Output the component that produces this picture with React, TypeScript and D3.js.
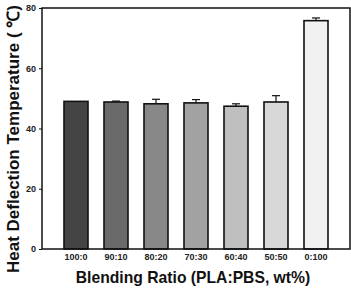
import React, { useEffect, useRef } from 'react';
import * as d3 from 'd3';

const ratios = ['100:0', '90:10', '80:20', '70:30', '60:40', '50:50', '0:100'];
const hdtValues = [49.0, 48.8, 48.2, 48.5, 47.4, 48.8, 75.8];
const hdtErrors = [0.0, 0.3, 1.5, 1.1, 0.8, 2.1, 0.9];
const barFills = ['#444444', '#6a6a6a', '#888888', '#a2a2a2', '#bfbfbf', '#d8d8d8', '#f1f1f1'];
const yTicks = [0, 20, 40, 60, 80];

const width = 351;
const height = 289;

const App: React.FC = () => {
  const svgRef = useRef<SVGSVGElement>(null);

  useEffect(() => {
    if (!svgRef.current) return;
    const svg = d3.select(svgRef.current);
    svg.selectAll('*').remove();

    const margin = { top: 8, right: 1, bottom: 40, left: 42 };
    const innerWidth = width - margin.left - margin.right;
    const innerHeight = height - margin.top - margin.bottom;

    const g = svg
      .append('g')
      .attr('transform', `translate(${margin.left},${margin.top})`);

    const xScale = d3
      .scaleBand<string>()
      .domain(ratios)
      .range([0, innerWidth])
      .paddingInner(0.4)
      .paddingOuter(0.55);

    const yScale = d3.scaleLinear().domain([0, 80]).range([innerHeight, 0]);

    // Bars
    g.selectAll('.bar')
      .data(ratios)
      .enter()
      .append('rect')
      .attr('class', 'bar')
      .attr('x', d => xScale(d) as number)
      .attr('y', (d, i) => yScale(hdtValues[i]))
      .attr('width', xScale.bandwidth())
      .attr('height', (d, i) => innerHeight - yScale(hdtValues[i]))
      .attr('fill', (d, i) => barFills[i])
      .attr('stroke', '#111')
      .attr('stroke-width', 1.6);

    // Upper error bars
    const capHalf = 4;
    ratios.forEach((r, i) => {
      if (hdtErrors[i] <= 0) return;
      const cx = (xScale(r) as number) + xScale.bandwidth() / 2;
      const top = yScale(hdtValues[i] + hdtErrors[i]);
      g.append('line')
        .attr('x1', cx).attr('x2', cx)
        .attr('y1', yScale(hdtValues[i])).attr('y2', top)
        .attr('stroke', '#111').attr('stroke-width', 1.2);
      g.append('line')
        .attr('x1', cx - capHalf).attr('x2', cx + capHalf)
        .attr('y1', top).attr('y2', top)
        .attr('stroke', '#111').attr('stroke-width', 1.2);
    });

    // Frame
    g.append('rect')
      .attr('x', 0)
      .attr('y', 0)
      .attr('width', innerWidth)
      .attr('height', innerHeight)
      .attr('fill', 'none')
      .attr('stroke', '#111')
      .attr('stroke-width', 1.5);

    // Y axis
    const yAxis = g
      .append('g')
      .call(d3.axisLeft(yScale).tickValues(yTicks).tickSize(3).tickPadding(3));
    yAxis.select('.domain').remove();
    yAxis.selectAll('line').attr('stroke', '#111');
    yAxis
      .selectAll('text')
      .attr('font-family', 'Arial, "Liberation Sans", sans-serif')
      .attr('font-weight', 'bold')
      .attr('font-size', 9)
      .attr('fill', '#222');

    // X axis labels
    const xAxis = g
      .append('g')
      .attr('transform', `translate(0,${innerHeight})`)
      .call(d3.axisBottom(xScale).tickSize(0).tickPadding(5));
    xAxis.select('.domain').remove();
    xAxis
      .selectAll('text')
      .attr('font-family', 'Arial, "Liberation Sans", sans-serif')
      .attr('font-weight', 'bold')
      .attr('font-size', 9)
      .attr('fill', '#222');

    // Axis titles
    svg
      .append('text')
      .attr('x', margin.left + innerWidth / 2 - 3)
      .attr('y', 283)
      .attr('text-anchor', 'middle')
      .attr('font-family', 'Arial, "Liberation Sans", sans-serif')
      .attr('font-weight', 'bold')
      .attr('font-size', 15.7)
      .attr('fill', '#111')
      .text('Blending Ratio (PLA:PBS, wt%)');

    svg
      .append('text')
      .attr('transform', 'translate(19,273) rotate(-90)')
      .attr('text-anchor', 'start')
      .attr('font-family', 'Arial, "Liberation Sans", sans-serif')
      .attr('font-weight', 'bold')
      .attr('font-size', 17)
      .attr('fill', '#111')
      .text('Heat Deflection Temperature ( ℃)');
  }, []);

  return (
    <svg
      ref={svgRef}
      width={width}
      height={height}
      style={{ position: 'absolute', left: 0, top: 0, background: '#fff' }}
    />
  );
};

export default App;
